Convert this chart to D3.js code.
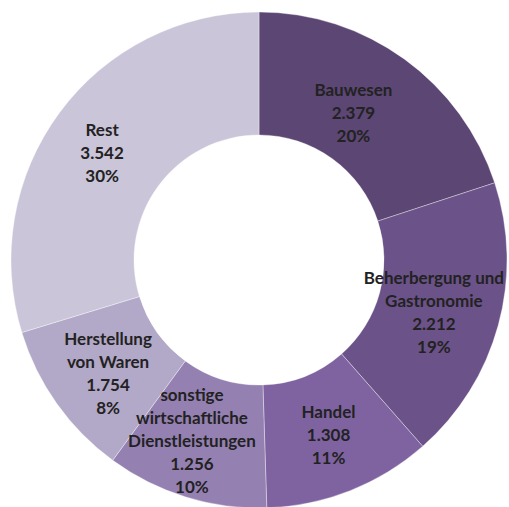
<!DOCTYPE html>
<html><head><meta charset="utf-8">
<script src="https://cdn.jsdelivr.net/npm/d3@7"></script>
<style>html,body{margin:0;padding:0;background:#fff;}svg{display:block;}</style>
</head><body>
<svg id="chart" width="509" height="507"></svg>
<script>
// Data
const categories = ["Bauwesen", "Beherbergung und Gastronomie", "Handel", "sonstige wirtschaftliche Dienstleistungen", "Herstellung von Waren", "Rest"];
// slice sizes as drawn
const sliceValues = [2.379, 2.212, 1.308, 1.256, 1.22, 3.542];
// printed labels
const valueLabels = ["2.379", "2.212", "1.308", "1.256", "1.754", "3.542"];
const percentLabels = ["20%", "19%", "11%", "10%", "8%", "30%"];
const nameLines = [["Bauwesen"], ["Beherbergung und", "Gastronomie"], ["Handel"], ["sonstige", "wirtschaftliche", "Dienstleistungen"], ["Herstellung", "von Waren"], ["Rest"]];

// Styles / layout
const colors = ["#5c4674", "#6b5289", "#7e63a0", "#9580b2", "#b2a8c7", "#cbc5d9"];
const labelNudge = [[-15, 4], [-5, 3], [1, 2], [-12, 3], [1, 5], [-7, 4]];
const W = 509, H = 507, cx = 259, cy = 260, rOuter = 248, rInner = 125;

const svg = d3.select("#chart");
const g = svg.append("g").attr("transform", `translate(${cx},${cy})`);
const pie = d3.pie().value(d => d).sort(null);
const arcs = pie(sliceValues);
const arc = d3.arc().innerRadius(rInner).outerRadius(rOuter);

g.selectAll("path").data(arcs).join("path")
  .attr("d", arc)
  .attr("fill", (d, i) => colors[i])
  .attr("stroke", "rgba(255,255,255,0.45)")
  .attr("stroke-width", 0.8);

const lh = 23;
arcs.forEach((d, i) => {
  const [x, y] = arc.centroid(d);
  const lines = nameLines[i].concat([valueLabels[i], percentLabels[i]]);
  const x0 = x + labelNudge[i][0], y0 = y + labelNudge[i][1];
  const t = g.append("text")
    .attr("text-anchor", "middle")
    .attr("font-family", "Lato, 'Open Sans', sans-serif")
    .attr("font-weight", "bold")
    .attr("font-size", 17)
    .attr("fill", "#222222");
  lines.forEach((ln, j) => {
    t.append("tspan")
      .attr("x", x0)
      .attr("y", y0 + (j - (lines.length - 1) / 2) * lh)
      .attr("dy", "0.35em")
      .text(ln);
  });
});
</script>
</body></html>
